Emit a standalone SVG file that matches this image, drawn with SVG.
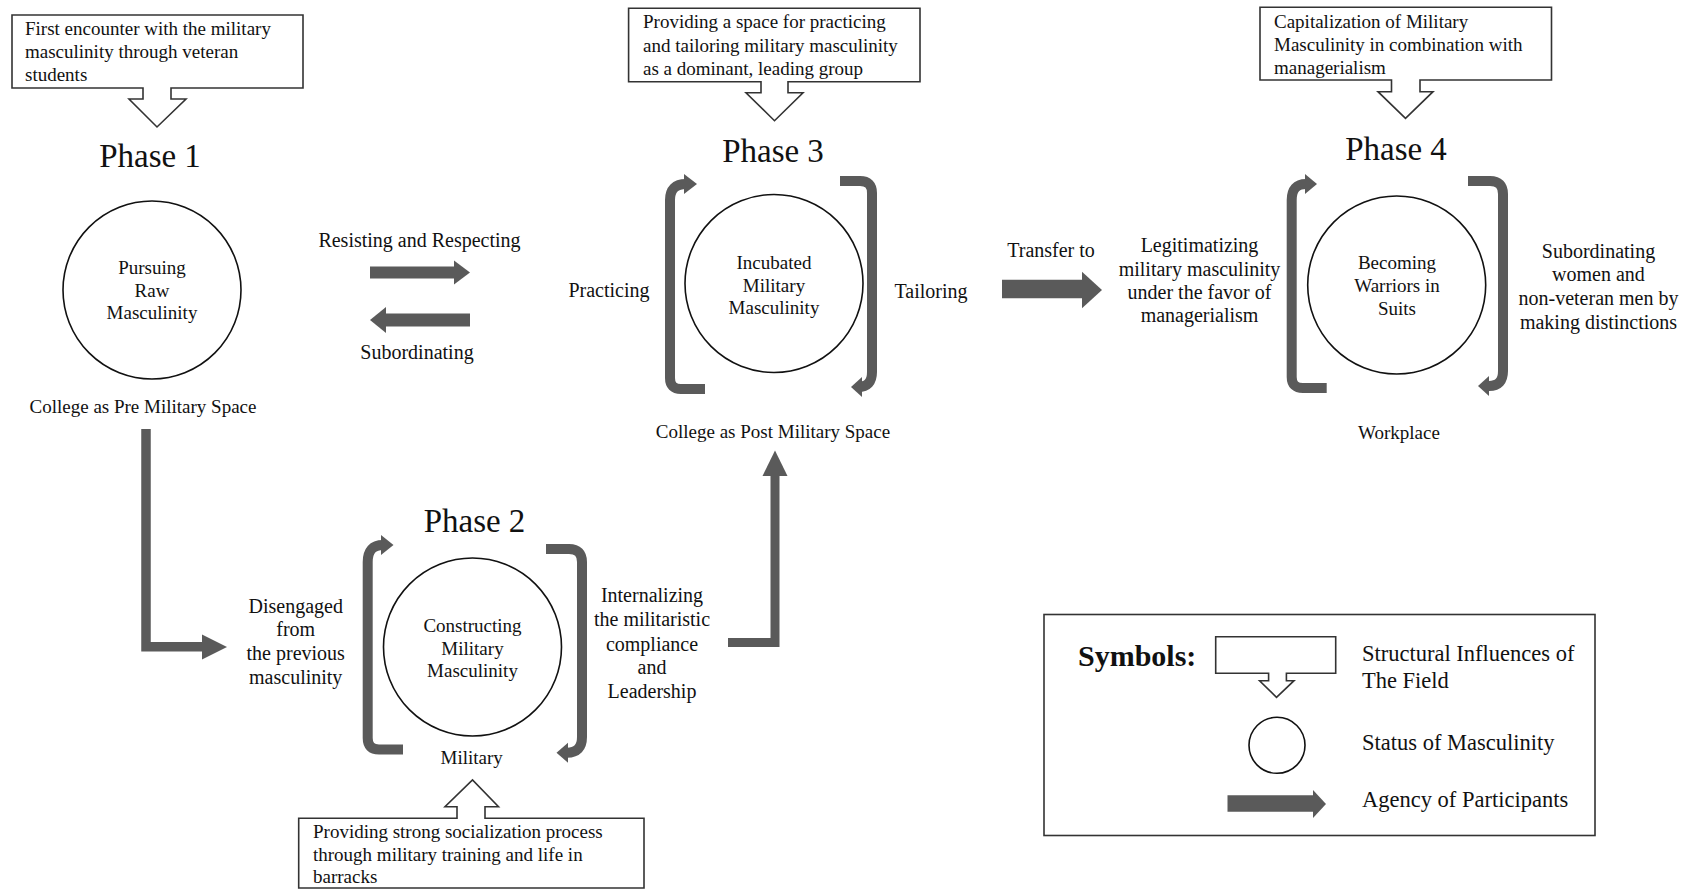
<svg xmlns="http://www.w3.org/2000/svg" width="1690" height="890" viewBox="0 0 1690 890">
<style>
text{font-family:"Liberation Serif","Times New Roman",serif;fill:#111;}
.bt{font-size:19px;}
.ct{font-size:19px;text-anchor:middle;}
.lb{font-size:20px;text-anchor:middle;}
.ph{font-size:33px;text-anchor:middle;}
.lg{font-size:22.5px;}
.sym{font-size:30px;font-weight:bold;}
.callout{fill:#fff;stroke:#333;stroke-width:1.6;stroke-linejoin:miter;}
.circ{fill:#fff;stroke:#111;stroke-width:1.6;}
.ag{fill:none;stroke:#5a5a5a;stroke-linejoin:miter;}
.br{fill:none;stroke:#5a5a5a;stroke-width:10;stroke-linecap:butt;}
.hd{fill:#5a5a5a;stroke:none;}
.frame{fill:#fff;stroke:#333;stroke-width:1.6;}
</style>
<rect width="1690" height="890" fill="#fff"/>

<g id="influence1">
<path class="callout" d="M 12 15 H 303 V 88 H 171 V 99 H 186 L 157 127 L 129 99 H 143 V 88 H 12 Z"/>
<text class="bt" x="25" y="35">First encounter with the military</text>
<text class="bt" x="25" y="58">masculinity through veteran</text>
<text class="bt" x="25" y="81">students</text>
</g>

<g id="influence3">
<path class="callout" d="M 628.6 8.3 H 920 V 81.7 H 788 V 92.7 H 803 L 774.5 120.7 L 746 92.7 H 761 V 81.7 H 628.6 Z"/>
<text class="bt" x="643" y="28">Providing a space for practicing</text>
<text class="bt" x="643" y="51.5">and tailoring military masculinity</text>
<text class="bt" x="643" y="74.5">as a dominant, leading group</text>
</g>

<g id="influence4">
<path class="callout" d="M 1260 7.3 H 1551.5 V 80 H 1420 V 91.7 H 1433 L 1405.5 118.3 L 1378 91.7 H 1391.5 V 80 H 1260 Z"/>
<text class="bt" x="1274" y="28">Capitalization of Military</text>
<text class="bt" x="1274" y="51">Masculinity in combination with</text>
<text class="bt" x="1274" y="74">managerialism</text>
</g>

<g id="influence2">
<path class="callout" d="M 298.7 818.3 H 457 V 806.7 H 445 L 472.5 780 L 498.5 806.7 H 485 V 818.3 H 644 V 888 H 298.7 Z"/>
<text class="bt" x="313" y="837.5">Providing strong socialization process</text>
<text class="bt" x="313" y="860.5">through military training and life in</text>
<text class="bt" x="313" y="883">barracks</text>
</g>

<g id="phase1">
<text class="ph" x="150" y="167">Phase 1</text>
<circle class="circ" cx="152" cy="290" r="89"/>
<text class="ct" x="152" y="273.5">Pursuing</text>
<text class="ct" x="152" y="296.5">Raw</text>
<text class="ct" x="152" y="319">Masculinity</text>
<text class="ct" x="143" y="413">College as Pre Military Space</text>
</g>

<g id="phase2">
<text class="ph" x="474.5" y="532">Phase 2</text>
<circle class="circ" cx="472.5" cy="647" r="89"/>
<text class="ct" x="472.5" y="632">Constructing</text>
<text class="ct" x="472.5" y="654.7">Military</text>
<text class="ct" x="472.5" y="677">Masculinity</text>
<path class="br" d="M 403 749.5 H 379 Q 367.7 749.5 367.7 738 V 562 Q 367.7 545 383 545"/>
<polygon class="hd" points="381,535 393.5,545 381,555"/>
<path class="br" d="M 546 549 H 569 Q 582 549 582 562 V 737 Q 582 752.7 567 752.7"/>
<polygon class="hd" points="568,742.7 556.5,752.7 568,762.7"/>
<text class="ct" x="471.7" y="764">Military</text>
</g>

<g id="phase3">
<text class="ph" x="773" y="161.5">Phase 3</text>
<circle class="circ" cx="774" cy="283.5" r="89"/>
<text class="ct" x="774" y="269">Incubated</text>
<text class="ct" x="774" y="291.5">Military</text>
<text class="ct" x="774" y="314">Masculinity</text>
<path class="br" d="M 705 389 H 681 Q 670 389 670 378 V 200 Q 670 184 686 184"/>
<polygon class="hd" points="684,174 697,184 684,194"/>
<path class="br" d="M 840 181 H 860 Q 872 181 872 193 V 372 Q 872 387 858 387"/>
<polygon class="hd" points="862,377 851,387 862,397"/>
<text class="ct" x="773" y="438">College as Post Military Space</text>
</g>

<g id="phase4">
<text class="ph" x="1396" y="160">Phase 4</text>
<circle class="circ" cx="1396.7" cy="285" r="89"/>
<text class="ct" x="1397" y="269">Becoming</text>
<text class="ct" x="1397" y="291.5">Warriors in</text>
<text class="ct" x="1397" y="314.5">Suits</text>
<path class="br" d="M 1326.7 388 H 1303 Q 1291.7 388 1291.7 377 V 200 Q 1291.7 184 1306 184"/>
<polygon class="hd" points="1305,174 1317,184 1305,194"/>
<path class="br" d="M 1468 181 H 1490 Q 1503 181 1503 194 V 371 Q 1503 386 1489 386"/>
<polygon class="hd" points="1489,376 1478,386 1489,396"/>
<text class="ct" x="1399" y="439">Workplace</text>
</g>

<g id="connectors">
<path class="ag" stroke-width="9.5" d="M 146 429 V 646.7 H 203"/>
<polygon class="hd" points="202,634.5 227,647 202,659.5"/>
<path class="ag" stroke-width="9" d="M 728 642.5 H 775 V 475"/>
<polygon class="hd" points="762.5,476 775,450.5 787.5,476"/>
<path class="ag" stroke-width="12" d="M 370 272.5 H 455"/>
<polygon class="hd" points="454,260.5 470,272.5 454,284.5"/>
<path class="ag" stroke-width="13" d="M 470 320 H 385"/>
<polygon class="hd" points="386,307 370,320 386,333"/>
<path class="ag" stroke-width="18.3" d="M 1002 289 H 1083"/>
<polygon class="hd" points="1082,271.7 1102,290 1082,308.3"/>
</g>

<g id="labels">
<text class="lb" x="419.5" y="247">Resisting and Respecting</text>
<text class="lb" x="417" y="358.5">Subordinating</text>
<text class="lb" x="609" y="297">Practicing</text>
<text class="lb" x="931" y="298">Tailoring</text>
<text class="lb" x="1051" y="257">Transfer to</text>
<text class="lb" x="1199.5" y="252">Legitimatizing</text>
<text class="lb" x="1199.5" y="275.5">military masculinity</text>
<text class="lb" x="1199.5" y="299">under the favor of</text>
<text class="lb" x="1199.5" y="322">managerialism</text>
<text class="lb" x="1598.5" y="257.5">Subordinating</text>
<text class="lb" x="1598.5" y="281">women and</text>
<text class="lb" x="1598.5" y="305">non-veteran men by</text>
<text class="lb" x="1598.5" y="329">making distinctions</text>
<text class="lb" x="295.7" y="612.5">Disengaged</text>
<text class="lb" x="295.7" y="636">from</text>
<text class="lb" x="295.7" y="660">the previous</text>
<text class="lb" x="295.7" y="684">masculinity</text>
<text class="lb" x="652" y="602">Internalizing</text>
<text class="lb" x="652" y="626">the militaristic</text>
<text class="lb" x="652" y="650.5">compliance</text>
<text class="lb" x="652" y="674">and</text>
<text class="lb" x="652" y="697.5">Leadership</text>
</g>

<g id="legend">
<rect class="frame" x="1044" y="614.5" width="551" height="221"/>
<text class="sym" x="1078" y="666">Symbols:</text>
<path class="callout" d="M 1215.7 636.7 H 1335.7 V 673.3 H 1286.4 V 680.7 H 1294 L 1276.5 697.3 L 1259.6 680.7 H 1268.6 V 673.3 H 1215.7 Z"/>
<circle class="circ" cx="1277" cy="745.3" r="28"/>
<path class="ag" stroke-width="16.7" d="M 1227.5 803.5 H 1314"/>
<polygon class="hd" points="1313,790 1326,804 1313,818"/>
<text class="lg" x="1362" y="661">Structural Influences of</text>
<text class="lg" x="1362" y="688">The Field</text>
<text class="lg" x="1362" y="750">Status of Masculinity</text>
<text class="lg" x="1362" y="807">Agency of Participants</text>
</g>
</svg>
